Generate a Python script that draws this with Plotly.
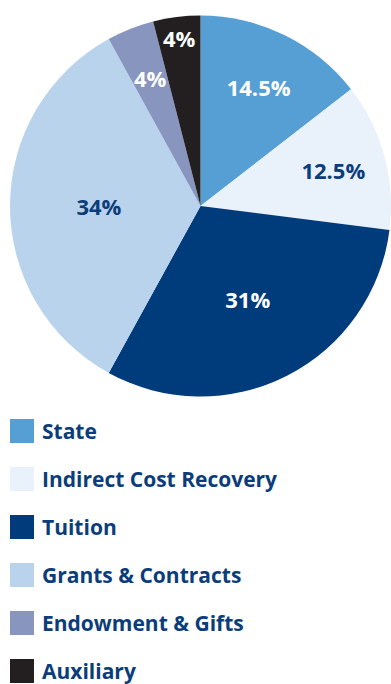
import math
import plotly.graph_objects as go

W, H = 391, 684

labels = ["State", "Indirect Cost Recovery", "Tuition", "Grants & Contracts",
          "Endowment & Gifts", "Auxiliary"]
values = [14.5, 12.5, 31, 34, 4, 4]
text_labels = ["14.5%", "12.5%", "31%", "34%", "4%", "4%"]
colors = ["#559fd5", "#e9f1fa", "#003b7c", "#b8d3eb", "#8795bf", "#231f20"]
text_colors = ["#ffffff", "#0b3d7c", "#ffffff", "#0b3d7c", "#ffffff", "#ffffff"]
NAVY = "#0b3d7c"
FONT = "Open Sans"

# pie placement (pixels)
PX0, PX1, PY0, PY1 = 10, W, 14, 398
cx, cy = (PX0 + PX1) / 2, (PY0 + PY1) / 2
R = min(PX1 - PX0, PY1 - PY0) / 2

# the Endowment label sits deeper in its slice than Plotly would put it
MOVED = 4
pie_text = [t if i != MOVED else "" for i, t in enumerate(text_labels)]

fig = go.Figure()
fig.add_trace(go.Pie(
    labels=labels, values=values, text=pie_text,
    textinfo="text", textposition="inside",
    insidetextorientation="horizontal",
    textfont=dict(family=FONT, size=22, color=text_colors, weight="bold"),
    marker=dict(colors=colors, line=dict(width=0)),
    sort=False, direction="clockwise", rotation=0,
    domain=dict(x=[PX0 / W, PX1 / W], y=[1 - PY1 / H, 1 - PY0 / H]),
    showlegend=False, hoverinfo="label+percent",
))

annotations = []
total = sum(values)
start = sum(values[:MOVED])
mid = (start + values[MOVED] / 2) / total * 2 * math.pi
rr = 0.72 * R
ax, ay = cx + rr * math.sin(mid), cy - rr * math.cos(mid)
annotations.append(dict(text=text_labels[MOVED], xref="paper", yref="paper",
                        x=ax / W, y=1 - ay / H, xanchor="center", yanchor="middle",
                        showarrow=False,
                        font=dict(family=FONT, size=22, color=text_colors[MOVED],
                                  weight="bold")))

# custom legend built from the category lists
shapes = []
row0, step, sq = 431, 48, 24
for i, (lab, col) in enumerate(zip(labels, colors)):
    yc = row0 + i * step
    shapes.append(dict(type="rect", xref="paper", yref="paper",
                       x0=10 / W, x1=(10 + sq) / W,
                       y0=1 - (yc + sq / 2) / H, y1=1 - (yc - sq / 2) / H,
                       fillcolor=col, line=dict(width=0)))
    annotations.append(dict(text=lab, xref="paper", yref="paper",
                            x=40 / W, y=1 - yc / H, xanchor="left", yanchor="middle",
                            showarrow=False,
                            font=dict(family=FONT, size=21, color=NAVY, weight="bold")))

fig.update_layout(width=W, height=H, margin=dict(l=0, r=0, t=0, b=0),
                  paper_bgcolor="white", plot_bgcolor="white",
                  shapes=shapes, annotations=annotations,
                  uniformtext=dict(minsize=22, mode="show"))
fig.write_html("out.html")
